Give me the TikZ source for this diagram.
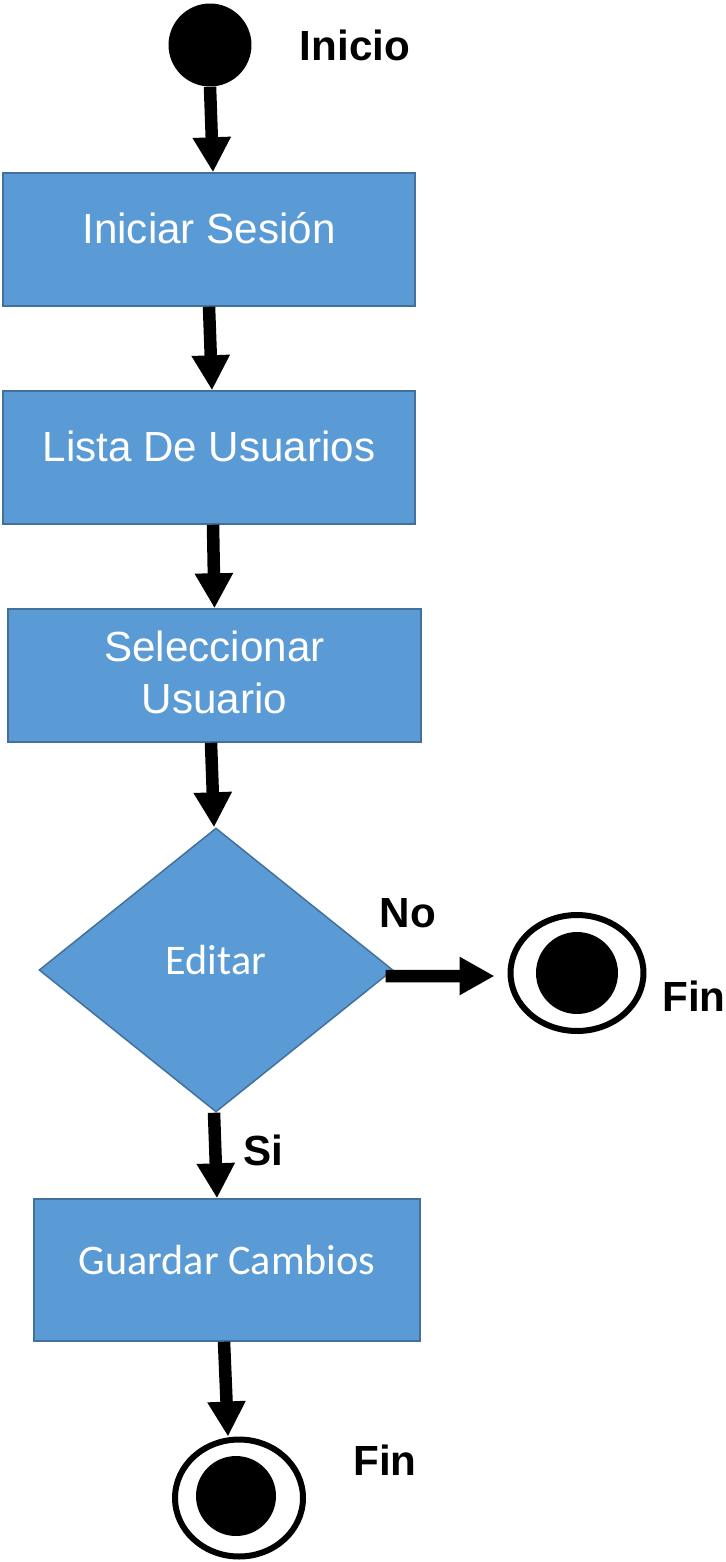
\documentclass[tikz,border=0pt]{standalone}
\usepackage{fontspec}
\setmainfont{Liberation Sans}
\newfontfamily\calibrifont{Carlito}
\usepackage{xcolor}
\usepackage{tikz}
\usetikzlibrary{shapes.geometric}
\usetikzlibrary{arrows.meta}

\definecolor{actfill}{HTML}{5B9BD5}
\definecolor{actline}{HTML}{41719C}

\begin{document}
\begin{tikzpicture}[
	x=0.02cm, y=-0.02cm,
	font=\fontsize{24pt}{29.5pt}\selectfont
]
\tikzset{
    startnode/.style = {circle, fill=black, minimum size=1.66cm, inner sep=0pt},
    actnode/.style = {rectangle, draw=actline, line width=0.03cm, fill=actfill, text=white, align=center,
		minimum width=8.24cm, minimum height=2.66cm, text height=0.62cm, text depth=0.48cm},
    decnode/.style = {diamond, draw=actline, line width=0.03cm, fill=actfill, text=white, inner sep=0pt,
		font=\calibrifont\fontsize{24pt}{29.5pt}\selectfont, minimum width=7.08cm, minimum height=5.68cm},
    endnode/.style = {ellipse, draw=black, line width=0.12cm, fill=white, inner sep=0pt,
		minimum width=2.66cm, minimum height=2.32cm},
    enddot/.style = {circle, fill=black, minimum size=1.64cm, inner sep=0pt},
    labelnode/.style = {font=\bfseries\fontsize{24pt}{29.5pt}\selectfont, inner sep=0pt},
    flowarrow/.style = {line width=0.25cm, -{Triangle[length=0.7cm, width=0.72cm]}}
}
\useasboundingbox (0,0) rectangle (725,1562);

\node [startnode] (inicio) at (210,45) {};
\node [labelnode] (inicioLbl) at (355,45) {Inicio};

\node [actnode] (sesion) at (209,239.5) {Iniciar Sesión};
\node [actnode] (lista) at (209,457.5) {Lista De Usuarios};
\node [actnode, minimum width=8.26cm, text height=1.66cm, text depth=0.14cm] (selec) at (214.5,675.5) {Seleccionar\\Usuario};

\node [decnode, text height=0.6cm, text depth=0.44cm] (editar) at (216,970) {Editar};
\node [labelnode] (noLbl) at (408,913) {No};

\node [endnode] (fin1) at (577,973) {};
\node [enddot] (fin1dot) at (fin1) {};
\node [labelnode] (fin1Lbl) at (694,996) {Fin};

\node [labelnode] (siLbl) at (263,1150) {Si};
\node [actnode, font=\calibrifont\fontsize{24pt}{29.5pt}\selectfont, minimum width=7.72cm, minimum height=2.84cm,
	text height=0.6cm, text depth=0.44cm] (guardar) at (227,1270) {Guardar Cambios};

\node [endnode, minimum width=2.56cm, minimum height=2.34cm] (fin2) at (239,1498) {};
\node [enddot, minimum size=1.6cm] (fin2dot) at (236,1496) {};
\node [labelnode] (fin2Lbl) at (385,1460) {Fin};

\draw [flowarrow] (inicio.south) -- ([xshift=0.08cm]sesion.north);
\draw [flowarrow] (sesion.south) -- ([xshift=0.06cm]lista.north);
\draw [flowarrow] ([xshift=0.08cm]lista.south) -- (selec.north);
\draw [flowarrow] ([xshift=-0.07cm]selec.south) -- ([xshift=-0.04cm]editar.north);
\draw [flowarrow] ([xshift=-0.16cm,yshift=-0.12cm]editar.east) -- ([xshift=-0.26cm,yshift=-0.06cm]fin1.west);
\draw [flowarrow] ([xshift=-0.04cm]editar.south) -- ([xshift=-0.2cm]guardar.north);
\draw [flowarrow] ([xshift=-0.06cm]guardar.south) -- ([xshift=-0.22cm]fin2.north);
\end{tikzpicture}
\end{document}
